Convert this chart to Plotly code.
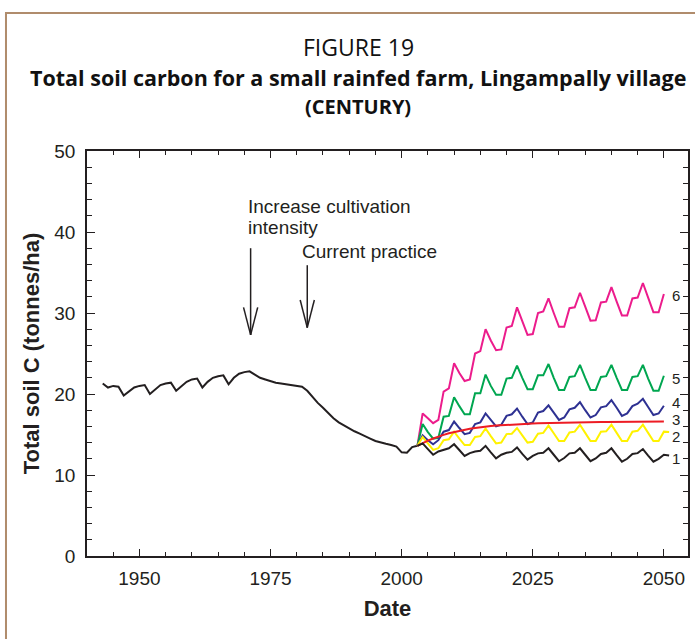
import plotly.graph_objects as go

# historical run (black)
hist_years = list(range(1943, 2004))
hist_carbon = [21.3, 20.8, 21.0, 20.9, 19.8, 20.3, 20.8, 21.0, 21.1, 20.0,
               20.6, 21.1, 21.3, 21.4, 20.4, 21.0, 21.5, 21.8, 21.9, 20.8,
               21.5, 22.0, 22.2, 22.3, 21.2, 22.0, 22.5, 22.7, 22.8, 22.4,
               22.0, 21.8, 21.6, 21.4, 21.3, 21.2, 21.1, 21.0, 20.9, 20.4,
               19.6, 18.9, 18.3, 17.6, 17.0, 16.5, 16.1, 15.7, 15.4, 15.1,
               14.75, 14.5, 14.2, 14.0, 13.85, 13.7, 13.5, 12.8, 12.75, 13.45,
               13.6]

# scenarios, 2003-2050 (1 and 2 run one step further)
scen_years = list(range(2003, 2052))
s6 = [13.6, 17.6, 17.0, 16.4, 16.8, 20.3, 20.7, 23.8, 22.6, 21.6,
      21.8, 25.0, 25.3, 28.0, 26.6, 25.4, 25.5, 28.2, 28.4, 30.7,
      29.0, 27.3, 27.4, 30.0, 30.2, 31.8, 30.0, 28.3, 28.3, 30.6,
      30.7, 32.5, 30.8, 29.05, 29.1, 31.3, 31.4, 33.2, 31.4, 29.7,
      29.7, 31.8, 31.9, 33.7, 31.9, 30.1, 30.1, 32.35]
s5 = [13.6, 16.3, 15.3, 14.5, 14.6, 17.2, 17.3, 19.6, 18.5, 17.5,
      17.5, 20.1, 20.1, 22.4, 21.0, 19.9, 19.9, 21.9, 22.0, 23.5,
      22.0, 20.6, 20.6, 22.3, 22.3, 23.7, 22.0, 20.5, 20.5, 22.1,
      22.2, 23.6, 22.0, 20.5, 20.5, 22.1, 22.2, 23.6, 22.0, 20.5,
      20.5, 22.1, 22.2, 23.6, 21.9, 20.4, 20.4, 22.25]
s4 = [13.6, 14.9, 14.3, 13.8, 14.3, 15.35, 15.55, 16.6, 15.8, 15.05,
      15.2, 16.3, 16.5, 17.6, 16.8, 16.0, 16.2, 17.3, 17.5, 18.2,
      17.2, 16.3, 16.5, 17.7, 17.9, 18.6, 17.7, 16.8, 17.1, 18.1,
      18.3, 19.0, 18.0, 17.1, 17.4, 18.35, 18.5, 19.25, 18.3, 17.3,
      17.6, 18.5, 18.8, 19.4, 18.4, 17.4, 17.6, 18.55]
s3 = [13.6, 13.95, 14.25, 14.5, 14.75, 14.95, 15.15, 15.3, 15.45, 15.6,
      15.7, 15.8, 15.9, 15.97, 16.04, 16.1, 16.15, 16.2, 16.24, 16.28,
      16.31, 16.34, 16.37, 16.39, 16.41, 16.43, 16.45, 16.46, 16.47, 16.48,
      16.49, 16.5, 16.51, 16.52, 16.53, 16.54, 16.55, 16.55, 16.56, 16.56,
      16.57, 16.57, 16.58, 16.58, 16.59, 16.59, 16.6, 16.6]
s2 = [13.6, 14.7, 13.9, 13.1, 13.3, 14.3, 14.4, 15.35, 14.5, 13.7,
      13.7, 14.7, 14.8, 15.75, 14.8, 13.9, 14.0, 15.05, 15.1, 15.8,
      14.9, 14.0, 14.1, 15.1, 15.2, 16.1, 15.15, 14.2, 14.2, 15.25,
      15.35, 16.2, 15.2, 14.2, 14.2, 15.35, 15.4, 16.2, 15.2, 14.2,
      14.2, 15.35, 15.45, 16.2, 15.2, 14.2, 14.2, 15.35, 15.3]
s1 = [13.6, 13.9, 13.2, 12.5, 12.9, 13.1, 13.3, 13.8, 13.1, 12.35,
      12.7, 12.9, 13.0, 13.6, 12.8, 12.05, 12.5, 12.75, 12.85, 13.4,
      12.6, 11.9, 12.35, 12.67, 12.75, 13.3, 12.5, 11.7, 12.1, 12.67,
      12.75, 13.3, 12.5, 11.7, 12.05, 12.6, 12.75, 13.3, 12.45, 11.65,
      12.0, 12.6, 12.7, 13.2, 12.4, 11.65, 12.0, 12.5, 12.4]

scenarios = [("6", s6, "#EC1C8C"), ("5", s5, "#00A650"), ("4", s4, "#2E3192"),
             ("2", s2, "#FFF200"), ("3", s3, "#ED1C24"), ("1", s1, "#231F20")]
label_y = {"6": 32.1, "5": 21.9, "4": 18.9, "3": 16.85, "2": 14.75, "1": 12.0}

fig = go.Figure()
fig.add_trace(go.Scatter(x=hist_years, y=hist_carbon, mode="lines",
                         line=dict(color="#231F20", width=2), showlegend=False))
for name, vals, col in scenarios:
    fig.add_trace(go.Scatter(x=scen_years[:len(vals)], y=vals, mode="lines",
                             line=dict(color=col, width=2), showlegend=False))

font = "Liberation Sans, Arial, sans-serif"
ann = []
for name, vals, col in scenarios:
    ann.append(dict(x=2052.4, y=label_y[name], text=name, showarrow=False,
                    xanchor="center", yanchor="middle",
                    font=dict(family=font, size=15, color="#231F20")))

# arrows: x, top, tip
arrows = [(1971.2, 38.0, 27.3), (1982.0, 35.9, 28.2)]
shapes = []
for ax, top, tip in arrows:
    shapes.append(dict(type="line", x0=ax, x1=ax, y0=top, y1=tip,
                       line=dict(color="#231F20", width=1.5)))
    for dx in (-1.35, 1.35):
        shapes.append(dict(type="line", x0=ax + dx, x1=ax, y0=tip + 3.4, y1=tip,
                           line=dict(color="#231F20", width=1.5)))
ann += [
    dict(x=1970.4, y=43.2, text="Increase cultivation", showarrow=False, xanchor="left",
         yanchor="middle", font=dict(family=font, size=19, color="#231F20")),
    dict(x=1970.4, y=40.6, text="intensity", showarrow=False, xanchor="left",
         yanchor="middle", font=dict(family=font, size=19, color="#231F20")),
    dict(x=1980.7, y=37.6, text="Current practice", showarrow=False, xanchor="left",
         yanchor="middle", font=dict(family=font, size=19, color="#231F20")),
]

tfont = "Open Sans, sans-serif"
ann += [
    dict(xref="paper", yref="paper", x=0.451, y=1.258, yanchor="middle",
         text="FIGURE 19", showarrow=False,
         font=dict(family=tfont, size=23, color="#111")),
    dict(xref="paper", yref="paper", x=0.451, y=1.1827, yanchor="middle",
         text="<b>Total soil carbon for a small rainfed farm, Lingampally village</b>",
         showarrow=False, font=dict(family=tfont, size=21.5, color="#111")),
    dict(xref="paper", yref="paper", x=0.451, y=1.111, yanchor="middle",
         text="<b>(CENTURY)</b>",
         showarrow=False, font=dict(family=tfont, size=20, color="#111")),
]

# brown frame around the figure
shapes.append(dict(type="rect", xref="paper", yref="paper", x0=-0.1348, x1=1.03,
                   y0=-0.25, y1=1.3407, line=dict(color="#B08C6C", width=2)))

fig.update_layout(
    width=695, height=639,
    margin=dict(l=87, r=7, t=151, b=83),
    paper_bgcolor="white", plot_bgcolor="white",
    annotations=ann, shapes=shapes,
)
axis_common = dict(showgrid=False, zeroline=False, showline=True, linecolor="#231F20",
                   linewidth=1.5, mirror="allticks", ticks="inside", tickcolor="#231F20",
                   automargin=False,
                   tickfont=dict(family=font, size=19, color="#231F20"))
fig.update_xaxes(range=[1940, 2054.6], tickvals=[1950, 1975, 2000, 2025, 2050], ticklen=7,
                 ticklabelstandoff=4,
                 minor=dict(dtick=5, tick0=1940, ticks="inside", ticklen=4, tickcolor="#231F20"),
                 title=dict(text="<b>Date</b>", font=dict(family=font, size=22, color="#231F20"),
                            standoff=13),
                 **axis_common)
fig.update_yaxes(range=[0, 50], dtick=10, ticklen=8, ticklabelstandoff=6,
                 minor=dict(dtick=2, ticks="inside", ticklen=5, tickcolor="#231F20"),
                 title=dict(text="<b>Total soil C (tonnes/ha)</b>",
                            font=dict(family=font, size=22, color="#231F20"), standoff=9),
                 **axis_common)

fig.write_html("out.html", config={"displayModeBar": False},
               post_script="document.body.style.margin='0';")
